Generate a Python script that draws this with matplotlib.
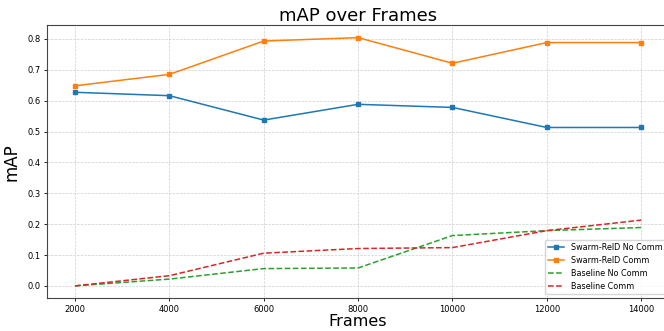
import matplotlib.pyplot as plt
import numpy as np

frames = [2000, 4000, 6000, 8000, 10000, 12000, 14000]
swarm_no_comm = [0.627, 0.616, 0.537, 0.588, 0.578, 0.513, 0.513]
swarm_comm = [0.648, 0.685, 0.793, 0.804, 0.721, 0.788, 0.788]
base_no_comm = [0.0, 0.022, 0.056, 0.058, 0.163, 0.179, 0.189]
base_comm = [0.0, 0.033, 0.106, 0.121, 0.124, 0.179, 0.213]

fig = plt.figure(figsize=(6.64, 3.31), dpi=100)
ax = fig.add_axes([0.0703, 0.0988, 0.938, 0.825])

ax.plot(frames, swarm_no_comm, marker='s', markersize=3.5, linewidth=1.1,
        color='#1f77b4', label='Swarm-ReID No Comm')
ax.plot(frames, swarm_comm, marker='s', markersize=3.5, linewidth=1.1,
        color='#ff7f0e', label='Swarm-ReID Comm')
ax.plot(frames, base_no_comm, linestyle='--', linewidth=1.1,
        color='#2ca02c', label='Baseline No Comm')
ax.plot(frames, base_comm, linestyle='--', linewidth=1.1,
        color='#d62728', label='Baseline Comm')

ax.set_title('mAP over Frames', fontsize=13, pad=3)
ax.set_xlabel('Frames', fontsize=11.5, labelpad=0)
ax.set_ylabel('mAP', fontsize=12, labelpad=5)
ax.set_xticks(frames)
ax.tick_params(labelsize=6, length=2.5, width=0.6, pad=2)
for s in ax.spines.values():
    s.set_linewidth(0.8)
    s.set_color('#444444')
ax.grid(True, linestyle='--', linewidth=0.5, alpha=0.6)
ax.legend(loc='lower right', fontsize=5.8, framealpha=0.8)

fig.savefig('out.png', dpi=100)
